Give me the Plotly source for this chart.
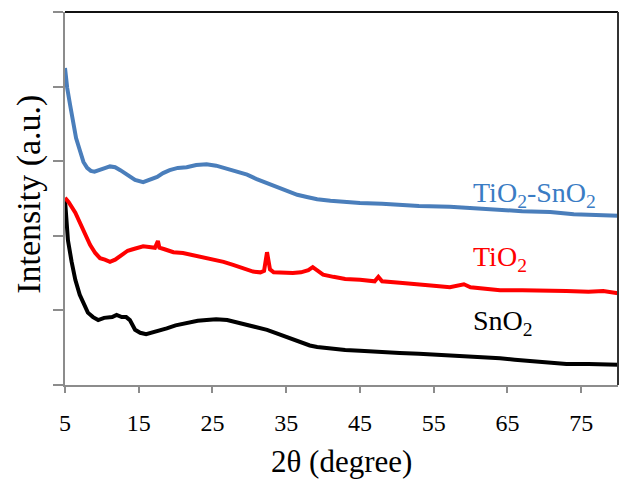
import plotly.graph_objects as go

# 2θ positions (degree) and intensities (a.u.) of the three XRD patterns
two_theta_tisn = [5.0, 5.3, 5.7, 6.1, 6.5, 7.0, 7.5, 8.0, 8.5, 9.0, 9.75, 10.5, 11.1, 11.8,
                  12.5, 13.2, 13.8, 14.5, 15.6, 16.5, 17.5, 18.3, 19.2, 20.3, 21.5, 22.8,
                  24.2, 25.5, 27.0, 28.3, 29.7, 31.0, 32.4, 33.8, 35.1, 36.5, 37.8, 39.2,
                  41.0, 43.0, 45.0, 48.0, 50.4, 53.0, 57.2, 60.0, 64.0, 67.0, 70.8, 74.0,
                  77.0, 80.0]
intensity_tisn = [4.25, 3.98, 3.75, 3.51, 3.31, 3.15, 2.99, 2.91, 2.87, 2.86, 2.88, 2.91,
                  2.93, 2.92, 2.88, 2.83, 2.79, 2.75, 2.72, 2.75, 2.79, 2.84, 2.88, 2.91,
                  2.92, 2.95, 2.96, 2.94, 2.90, 2.86, 2.82, 2.76, 2.71, 2.65, 2.60, 2.55,
                  2.52, 2.49, 2.47, 2.45, 2.44, 2.43, 2.41, 2.40, 2.39, 2.37, 2.35, 2.33,
                  2.32, 2.29, 2.28, 2.27]

two_theta_ti = [5.0, 5.5, 6.4, 7.0, 7.7, 8.4, 9.1, 9.75, 10.4, 11.1, 11.8, 12.7, 13.5,
                14.2, 14.9, 15.6, 16.4, 17.2, 17.6, 17.8, 18.5, 19.7, 21.0, 22.4, 23.8,
                25.1, 26.5, 27.8, 29.2, 30.5, 31.5, 32.0, 32.4, 32.8, 33.3, 34.5, 35.9,
                37.0, 38.0, 38.6, 39.2, 40.0, 41.4, 43.0, 45.0, 47.0, 47.5, 48.0, 50.4,
                53.0, 55.0, 57.2, 59.1, 60.0, 62.0, 64.0, 67.0, 70.8, 73.0, 76.0, 78.0,
                80.0]
intensity_ti = [2.51, 2.45, 2.31, 2.18, 2.01, 1.88, 1.77, 1.70, 1.68, 1.65, 1.68, 1.74,
                1.80, 1.82, 1.84, 1.86, 1.85, 1.84, 1.93, 1.84, 1.82, 1.78, 1.77, 1.74,
                1.72, 1.68, 1.65, 1.61, 1.57, 1.52, 1.51, 1.53, 1.78, 1.55, 1.51, 1.50,
                1.50, 1.51, 1.54, 1.58, 1.53, 1.48, 1.45, 1.42, 1.41, 1.39, 1.45, 1.39,
                1.37, 1.34, 1.33, 1.31, 1.35, 1.31, 1.29, 1.27, 1.27, 1.27, 1.26, 1.25,
                1.26, 1.23]

two_theta_sn = [5.0, 5.4, 5.9, 6.4, 7.0, 7.3, 8.1, 8.8, 9.5, 10.3, 11.4, 12.0, 12.7, 13.3,
                13.8, 14.5, 15.2, 16.0, 16.8, 18.0, 18.8, 20.0, 21.5, 23.0, 24.2, 25.5,
                27.0, 28.3, 29.7, 31.0, 32.4, 33.8, 35.1, 36.2, 37.3, 38.2, 39.2, 41.4,
                43.0, 45.0, 48.0, 50.4, 53.0, 57.2, 60.0, 62.0, 64.0, 66.0, 68.0, 70.8,
                73.0, 76.0, 78.0, 80.0]
intensity_sn = [2.48, 1.94, 1.65, 1.41, 1.21, 1.14, 0.97, 0.91, 0.87, 0.90, 0.91, 0.94,
                0.91, 0.91, 0.87, 0.74, 0.70, 0.68, 0.70, 0.74, 0.76, 0.80, 0.83, 0.86,
                0.87, 0.88, 0.87, 0.84, 0.80, 0.78, 0.74, 0.69, 0.64, 0.60, 0.56, 0.53,
                0.51, 0.48, 0.47, 0.46, 0.44, 0.43, 0.42, 0.40, 0.39, 0.38, 0.36, 0.34,
                0.32, 0.29, 0.28, 0.28, 0.27, 0.27]

x_ticks = [5, 15, 25, 35, 45, 55, 65, 75]
y_ticks = [0, 1, 2, 3, 4, 5]

BLUE = "#4a7ebb"
RED = "#ff0000"
BLACK = "#000000"
SERIF = "Liberation Serif"

fig = go.Figure()
for xs, ys, col, name in [
    (two_theta_sn, intensity_sn, BLACK, "SnO2"),
    (two_theta_ti, intensity_ti, RED, "TiO2"),
    (two_theta_tisn, intensity_tisn, BLUE, "TiO2-SnO2"),
]:
    fig.add_trace(go.Scatter(x=xs, y=ys, mode="lines", name=name,
                             line=dict(color=col, width=4)))

axis_grey = "#8c8c8c"
fig.update_xaxes(range=[5, 80], tickvals=x_ticks, ticks="outside", ticklen=6,
                 tickwidth=1.5, tickcolor=axis_grey, showline=True, linecolor=axis_grey,
                 linewidth=2, showgrid=False, zeroline=False, ticklabelstandoff=9,
                 tickfont=dict(family=SERIF, size=24, color="#000"))
fig.update_yaxes(range=[0, 5], tickvals=y_ticks, showticklabels=False, ticks="outside",
                 ticklen=10, tickwidth=1.5, tickcolor=axis_grey, showline=True,
                 linecolor=axis_grey, linewidth=2, showgrid=False, zeroline=False)

# frame: dark top edge and right edge
fig.add_shape(type="line", xref="paper", yref="paper", x0=0, x1=1, y0=1, y1=1,
              line=dict(color="#111111", width=2))
fig.add_shape(type="line", xref="paper", yref="paper", x0=1, x1=1, y0=0, y1=1,
              line=dict(color="#333333", width=2))

# series labels
labels = [
    ("TiO<sub>2</sub>-SnO<sub>2</sub>", 2.55, "#3a7cc4"),
    ("TiO<sub>2</sub>", 1.70, RED),
    ("SnO<sub>2</sub>", 0.84, BLACK),
]
for txt, yv, col in labels:
    fig.add_annotation(x=60, y=yv, xref="x", yref="y", text=txt, showarrow=False,
                       xanchor="left", yanchor="middle",
                       font=dict(family=SERIF, size=28, color=col))

# axis titles
fig.add_annotation(x=0.5, y=-0.206, xref="paper", yref="paper", text="2θ (degree)",
                   showarrow=False, xanchor="center", yanchor="middle",
                   font=dict(family=SERIF, size=31, color="#000"))
fig.add_annotation(x=-0.065, y=0.51, xref="paper", yref="paper", text="Intensity (a.u.)",
                   showarrow=False, xanchor="center", yanchor="middle", textangle=-90,
                   font=dict(family=SERIF, size=34, color="#000"))

fig.update_layout(width=622, height=480, margin=dict(l=65, r=4, t=12, b=95),
                  paper_bgcolor="white", plot_bgcolor="white", showlegend=False,
                  font=dict(family=SERIF))

fig.write_html("out.html")
